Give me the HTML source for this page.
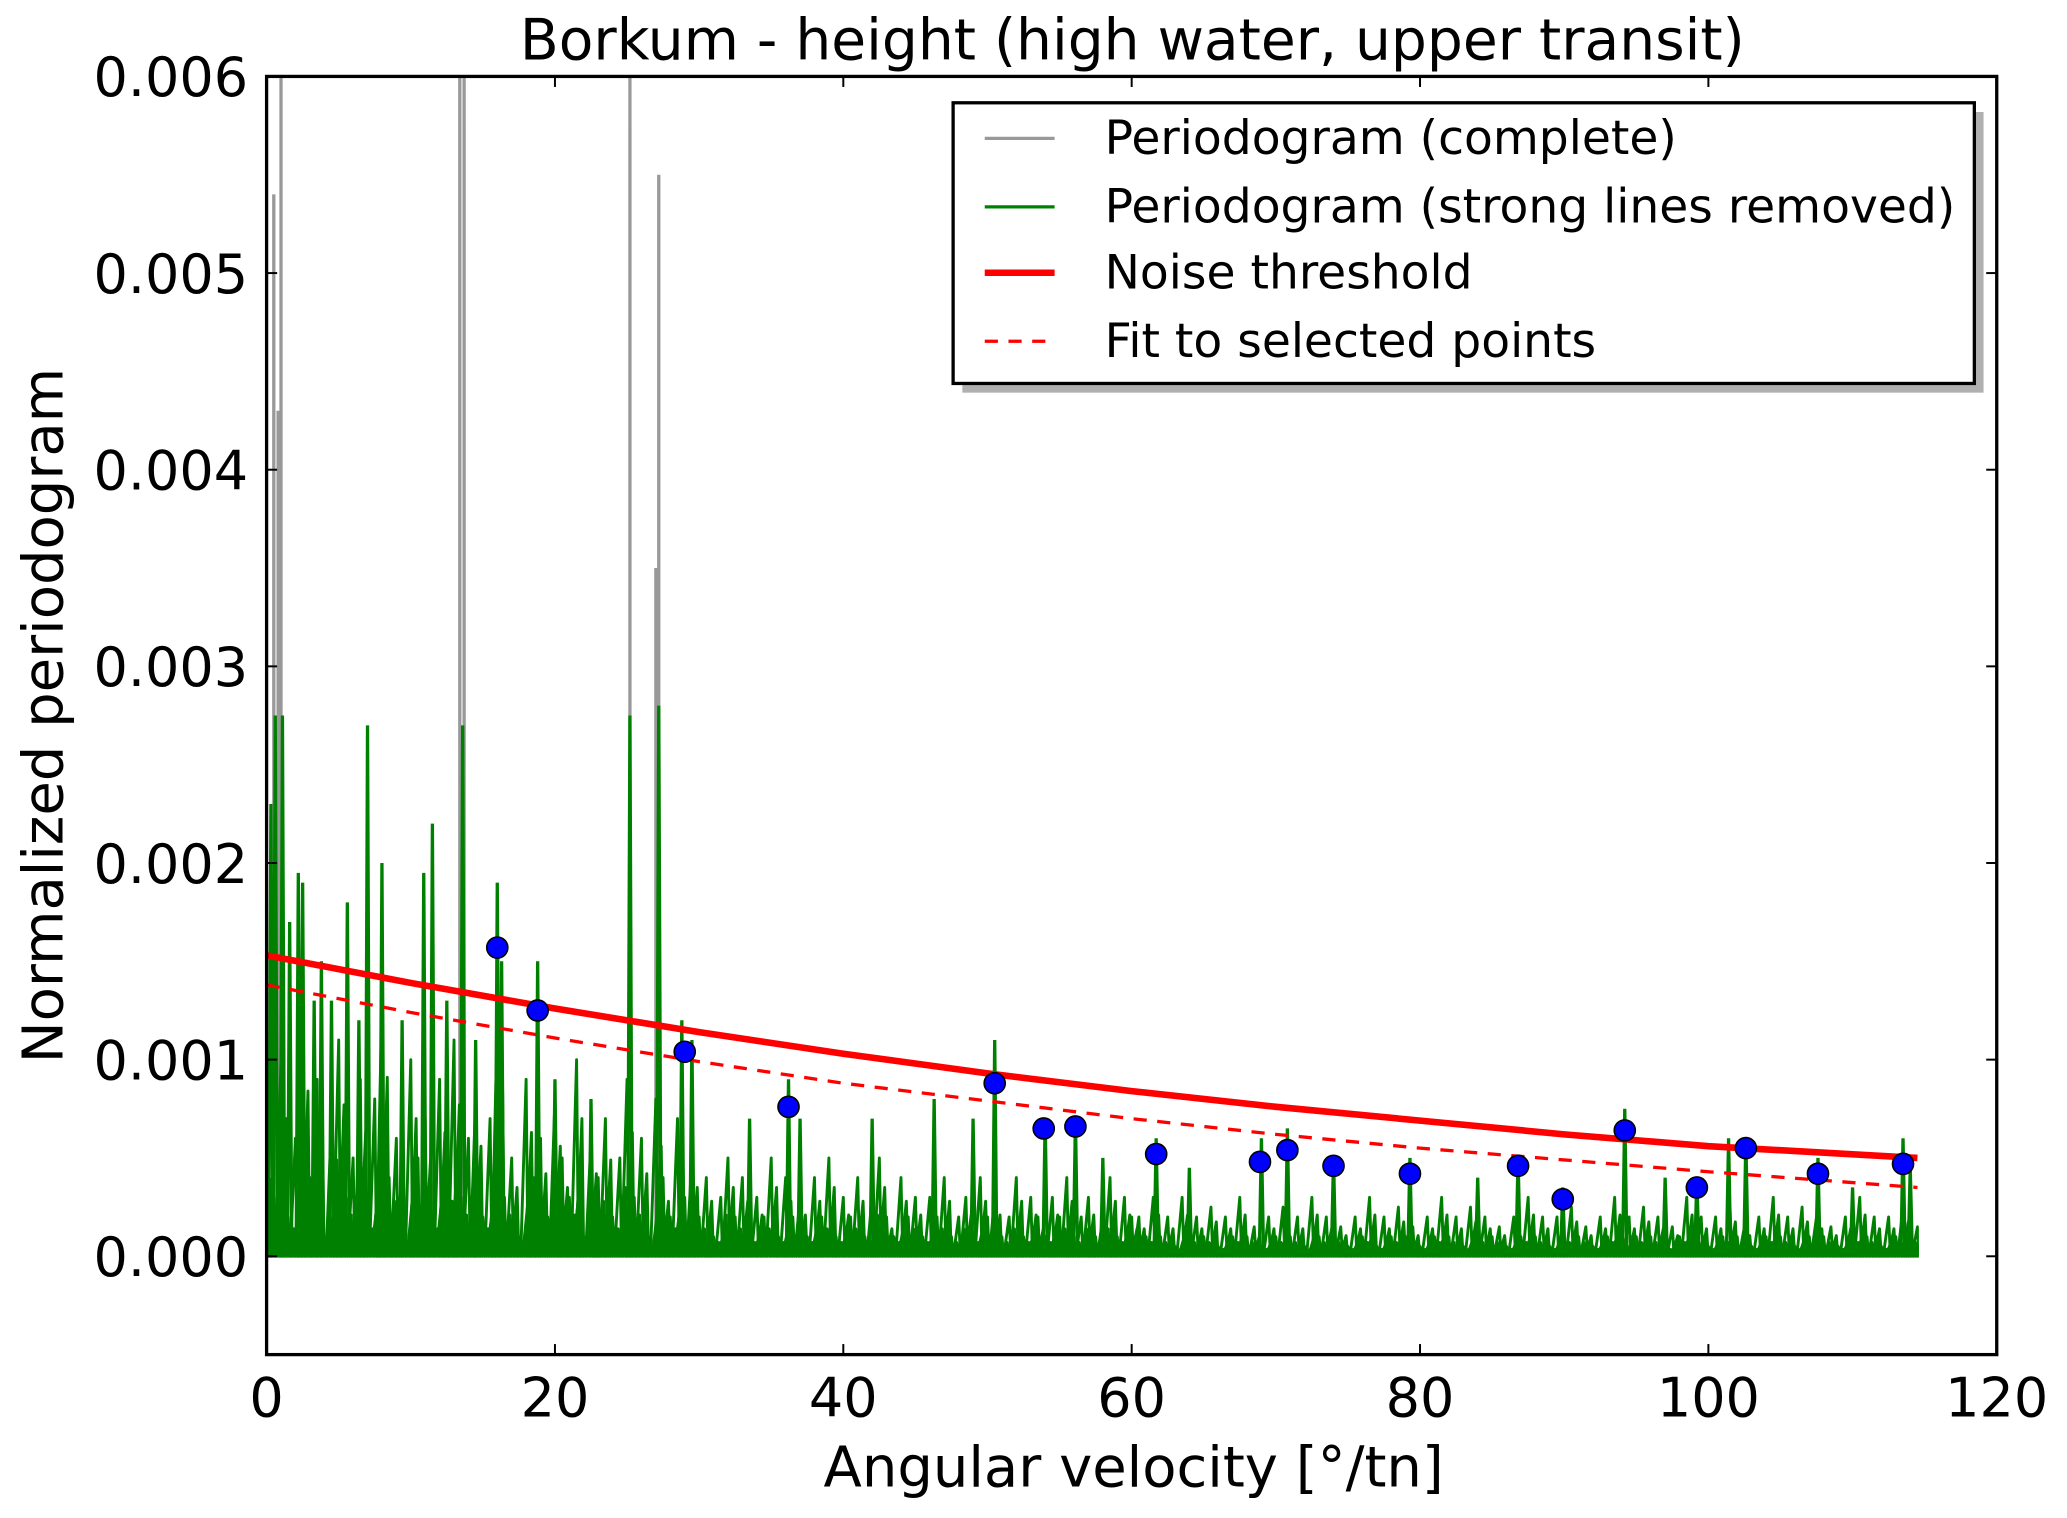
<!DOCTYPE html>
<html><head><meta charset="utf-8">
<style>
html,body{margin:0;padding:0;background:#fff;}
svg{display:block;font-family:"DejaVu Sans","Liberation Sans",sans-serif;}
</style></head>
<body>
<svg id="chart" width="2067" height="1518" viewBox="0 0 1568 1152" xmlns="http://www.w3.org/2000/svg">
<rect width="1568" height="1152" fill="#fff"/>
<text x="859" y="45" font-size="43" text-anchor="middle">Borkum - height (high water, upper transit)</text>
<g id="plot"></g>
<g id="axes"></g>
<text x="860" y="1128" font-size="42.5" text-anchor="middle">Angular velocity [°/tn]</text>
<text transform="translate(47,543) rotate(-90)" font-size="42.5" text-anchor="middle">Normalized periodogram</text>
<g>
<rect x="730" y="85" width="775" height="213" fill="#b0b0b0"/>
<rect x="723" y="78" width="775" height="213" fill="#fff" stroke="#000" stroke-width="2.5"/>
<g><line x1="747" y1="105" x2="800" y2="105" stroke="#999" stroke-width="2.5"/><text x="838" y="117" font-size="35.8">Periodogram (complete)</text></g>
<g><line x1="747" y1="157" x2="800" y2="157" stroke="#008000" stroke-width="2.5"/><text x="838" y="169" font-size="35.8">Periodogram (strong lines removed)</text></g>
<g><line x1="747" y1="207" x2="800" y2="207" stroke="#ff0000" stroke-width="5"/><text x="838" y="219" font-size="35.8">Noise threshold</text></g>
<g><line x1="747" y1="259" x2="800" y2="259" stroke="#ff0000" stroke-width="2.5" stroke-dasharray="10,8"/><text x="838" y="271" font-size="35.8">Fit to selected points</text></g>
</g>
</svg>
<script>
// noise values (units of 1e-4), x step 0.5 from 0
const noiseValues = [8,3,10,2,6,12,4,9,1,7,11,3,5,9,2,8,13,4,6,1,10,5,7,2,9,4,11,3,6,8,2,7,12,3,5,1,9,4,6,2,8,5,3,10,1,6,4,7,2,5,9,3,6,1,8,4,2,7,3,5,2,
4,1,3,5,2,4,1,3,2,5,1,4,2,3,1,4,2,5,1,3,2,4,1,3,5,2,1,4,2,3,1,3,2,4,1,2,3,1,4,2,3,1,2,4,1,3,2,1,3,2,4,1,2,3,1,2,4,1,3,2,
2,1,3,1,2,0.5,3,1,2,1,2.5,0.5,2,1,3,1,1.5,0.5,2,1,2.5,1,2,0.5,3,1,2,1,1.5,0.5,2,1,3,0.5,2,1,2.5,1,1.5,0.5,2,1,3,1,2,0.5,2.5,1,2,1,1.5,0.5,2,1,3,1,2,0.5,2,1,2.5,1,1.5,0.5,2,1,3,0.5,2,1,2.5,1,2,0.5,1.5,1,3,1,2,0.5,2,1,2.5,1,1.5,0.5,2,1,3,1,2,0.5,2.5,1,2,1,1.5,0.5,2,1,3,1,2,0.5,2,1,2.5,1,1.5,2];
const noiseStep = 0.5;
const noiseMaxX = 114.6;
// green spikes: x positions and heights
const greenSpikeX = [0.3,0.6,1.1,1.6,2.2,2.5,3.3,3.8,4.5,5.6,6.4,7.0,8.0,9.4,10.9,11.5,12.5,13.6,14.5,16.0,16.3,18.8,20,22.5,25.2,27.2,28.8,29.5,33.5,36.2,37,42,46.3,49,50.5,54,56.1,58,61.7,64,69,70.8,74,79.3,84,86.8,89.9,94.2,97,99.2,101.4,102.6,107.6,110,113.5,114];
const greenSpikeY = [0.0023,0.00275,0.00275,0.0017,0.00195,0.0019,0.0013,0.0015,0.0013,0.0018,0.0012,0.0027,0.002,0.0012,0.00195,0.0022,0.0013,0.0027,0.0011,0.0019,0.0015,0.0015,0.0009,0.0008,0.00275,0.0028,0.0012,0.0011,0.0007,0.0009,0.0007,0.0007,0.0008,0.0007,0.0011,0.0007,0.0007,0.0005,0.0006,0.00045,0.0006,0.00065,0.0005,0.0005,0.0004,0.0005,0.00035,0.00075,0.0004,0.0004,0.0006,0.0006,0.0005,0.00035,0.0006,0.00045];
// grey strong lines
const greySpikeX = [0.5,0.8,1.0,13.4,13.7,25.2,27.0,27.2];
const greySpikeY = [0.0054,0.0043,0.0065,0.0065,0.0065,0.0065,0.0035,0.0055];
// threshold curves
const curveX = [0,10,20,30,40,50,60,70,80,90,100,114.5];
const thresholdY = [0.00153,0.00139,0.00126,0.00114,0.00103,0.00093,0.00084,0.00076,0.00069,0.00062,0.00056,0.00050];
const fitY = [0.00138,0.00124,0.00111,0.00099,0.00088,0.00079,0.00070,0.00062,0.00055,0.00049,0.00043,0.00035];
// selected points
const pointX = [16.0,18.8,29.0,36.2,50.5,53.9,56.1,61.7,68.9,70.8,74.0,79.3,86.8,89.9,94.2,99.2,102.6,107.6,113.5];
const pointY = [0.00157,0.00125,0.00104,0.00076,0.00088,0.00065,0.00066,0.00052,0.00048,0.00054,0.00046,0.00042,0.00046,0.00029,0.00064,0.00035,0.00055,0.00042,0.00047];
const xTicks = [0,20,40,60,80,100,120];
const yTicks = [0,0.001,0.002,0.003,0.004,0.005,0.006];
const yTickLabels = ["0.000","0.001","0.002","0.003","0.004","0.005","0.006"];

const L=202,R=1515,T=58,B=1028;
const xs = v => L + (v-0)/(120-0)*(R-L);
const ys = v => B - (v-(-0.0005))/(0.0065)*(B-T);
const NS="http://www.w3.org/2000/svg";
const plot=document.getElementById('plot'), axes=document.getElementById('axes');
function mk(tag,attrs,parent){const e=document.createElementNS(NS,tag);for(const k in attrs)e.setAttribute(k,attrs[k]);parent.appendChild(e);return e;}

const clip=mk('clipPath',{id:'clip'},plot);mk('rect',{x:L,y:T,width:xs(noiseMaxX)-L,height:B-T},clip);
const g=mk('g',{'clip-path':'url(#clip)'},plot);

// grey spikes
let d='';
greySpikeX.forEach((x,i)=>{d+=`M${xs(x)},${ys(0.0001)}L${xs(x)},${ys(greySpikeY[i])}`;});
const grey=mk('path',{d:d,stroke:'#999',fill:'none','stroke-width':2.5},g);



// green noise polyline: main pass plus denser low passes derived from same values
const passes=[[0,1.0],[0.25,0.5],[0.12,0.3],[0.37,0.7]];
passes.forEach(([off,sc],pi)=>{
  const pts=[];
  noiseValues.forEach((v,i)=>{
    pts.push(`${xs(i*noiseStep+off)},${ys(v*sc*1e-4)}`);
    pts.push(`${xs(i*noiseStep+off+0.25*noiseStep)},${ys(0)}`);
  });
  const pl=mk('polyline',{points:pts.join(' '),stroke:'#008000',fill:'none','stroke-width':2.2,'stroke-linejoin':'round'},g);
  
  
});
// green spikes
d='';
greenSpikeX.forEach((x,i)=>{d+=`M${xs(x-0.15)},${ys(0)}L${xs(x)},${ys(greenSpikeY[i])}L${xs(x+0.15)},${ys(0)}`;});
const gs=mk('path',{d:d,stroke:'#008000',fill:'none','stroke-width':2.5},g);



const g2=mk('g',{},plot);
// curves
const th=mk('polyline',{points:curveX.map((x,i)=>`${xs(x)},${ys(thresholdY[i])}`).join(' '),stroke:'#ff0000',fill:'none','stroke-width':5},g2);


const ft=mk('polyline',{points:curveX.map((x,i)=>`${xs(x)},${ys(fitY[i])}`).join(' '),stroke:'#ff0000',fill:'none','stroke-width':2.5,'stroke-dasharray':'10,8'},g2);



pointX.forEach((x,i)=>{
  const c=mk('circle',{cx:xs(x),cy:ys(pointY[i]),r:8,fill:'#0000ff',stroke:'#000','stroke-width':1.2},g2);
  
  
});

// frame
const fr=mk('rect',{x:L,y:T,width:R-L,height:B-T,fill:'none',stroke:'#000','stroke-width':2.5},axes);


xTicks.forEach(t=>{
  const x=xs(t);
  mk('line',{x1:x,y1:B,x2:x,y2:B-8,stroke:'#000','stroke-width':1.5},axes);
  mk('line',{x1:x,y1:T,x2:x,y2:T+8,stroke:'#000','stroke-width':1.5},axes);
  const tx=mk('text',{x:x,y:B+47,'font-size':41,'text-anchor':'middle'},axes);
  tx.textContent=String(t);
  
  
});
yTicks.forEach((t,i)=>{
  const y=ys(t);
  mk('line',{x1:L,y1:y,x2:L+8,y2:y,stroke:'#000','stroke-width':1.5},axes);
  mk('line',{x1:R,y1:y,x2:R-8,y2:y,stroke:'#000','stroke-width':1.5},axes);
  const tx=mk('text',{x:188,y:y+15,'font-size':41,'text-anchor':'end'},axes);
  tx.textContent=yTickLabels[i];
  
  
});
</script>
</body></html>
